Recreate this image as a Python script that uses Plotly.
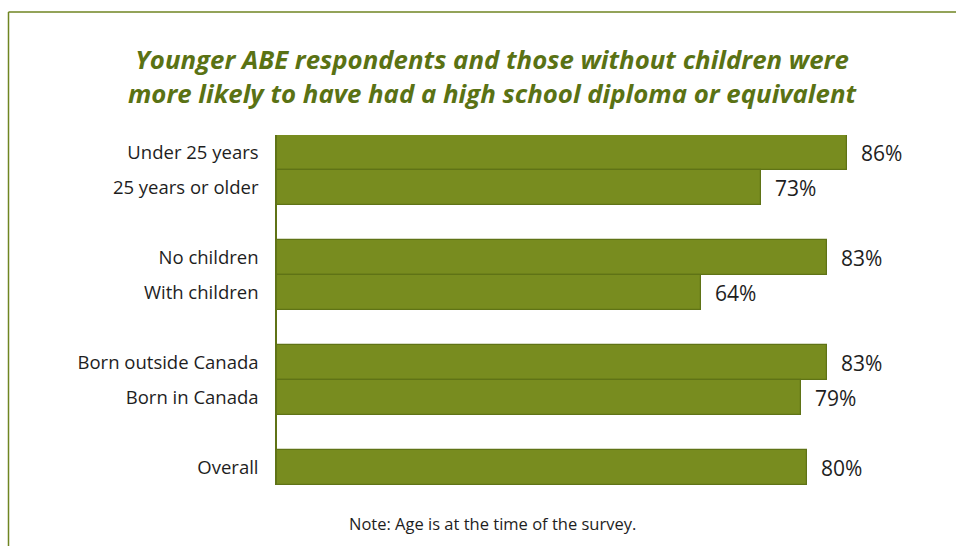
import plotly.graph_objects as go

# Survey shares with a high school diploma or equivalent, by group
categories = ["Under 25 years", "25 years or older",
              "No children", "With children",
              "Born outside Canada", "Born in Canada",
              "Overall"]
values = [86, 73, 83, 64, 83, 79, 80]
# Row slots: pairs of groups separated by an empty row
slots = [0, 1, 3, 4, 6, 7, 9]
value_labels = [f"{v}%" for v in values]

BAR_FILL = "#788c1f"
BAR_EDGE = "#5f7316"
TITLE_GREEN = "#5a7214"
FRAME_GREEN = "#6f8522"
TEXT = "#1e1e1e"
FONT = "Open Sans"

fig = go.Figure()
fig.add_trace(go.Bar(
    x=values,
    y=slots,
    orientation="h",
    marker=dict(color=BAR_FILL, line=dict(color=BAR_EDGE, width=1.2)),
    width=1.0,
    hoverinfo="skip",
))

annotations = [
    dict(x=v, y=s, text=t, xref="x", yref="y", xanchor="left", yanchor="middle",
         xshift=12, showarrow=False, font=dict(family=FONT, size=21, color=TEXT))
    for v, s, t in zip(values, slots, value_labels)
]

# Title and footnote
annotations.append(dict(
    x=(492 - 277) / 663, y=(485 - 76) / 350, xref="paper", yref="paper",
    xanchor="center", yanchor="middle", showarrow=False,
    text="<b><i>Younger ABE respondents and those without children were<br>"
         "more likely to have had a high school diploma or equivalent</i></b>",
    font=dict(family=FONT, size=25.8, color=TITLE_GREEN),
))
annotations.append(dict(
    x=(492 - 277) / 663, y=(485 - 523) / 350, xref="paper", yref="paper",
    xanchor="center", yanchor="middle", showarrow=False,
    text="Note: Age is at the time of the survey.",
    font=dict(family=FONT, size=16.5, color=TEXT),
))

# Frame lines along top and left edges
shapes = [
    dict(type="line", xref="paper", yref="paper",
         x0=(8.5 - 277) / 663, x1=(980 - 277) / 663,
         y0=(485 - 12) / 350, y1=(485 - 12) / 350,
         line=dict(color=FRAME_GREEN, width=1.5)),
    dict(type="line", xref="paper", yref="paper",
         x0=(8.5 - 277) / 663, x1=(8.5 - 277) / 663,
         y0=(485 - 12) / 350, y1=(485 - 580) / 350,
         line=dict(color=FRAME_GREEN, width=1.5)),
]

fig.update_layout(
    width=956, height=546,
    margin=dict(l=277, r=16, t=135, b=61),
    paper_bgcolor="white", plot_bgcolor="white",
    showlegend=False,
    bargap=0,
    font=dict(family=FONT, color=TEXT),
    annotations=annotations,
    shapes=shapes,
)
fig.update_xaxes(range=[0, 100], visible=False, fixedrange=True)
fig.update_yaxes(
    range=[9.5, -0.5],
    tickmode="array", tickvals=slots, ticktext=categories,
    tickfont=dict(family=FONT, size=18.5, color=TEXT),
    ticks="", ticklabelstandoff=13,
    showline=True, linecolor=BAR_EDGE, linewidth=1.5,
    showgrid=False, zeroline=False, fixedrange=True,
)

fig.write_html("out.html")
